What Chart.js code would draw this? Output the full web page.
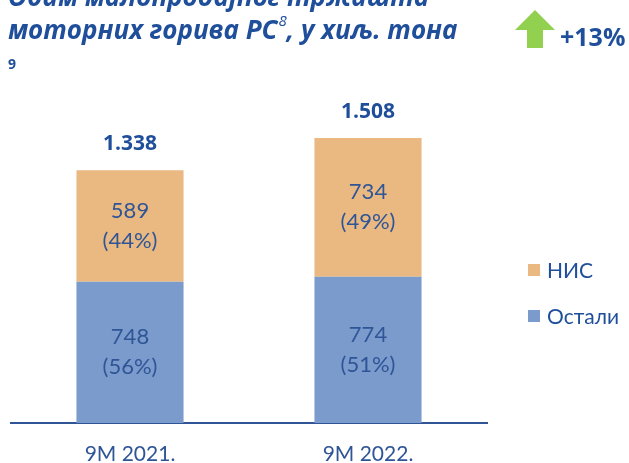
<!DOCTYPE html>
<html>
<head>
<meta charset="utf-8">
<script src="https://cdn.jsdelivr.net/npm/chart.js@4.4.1/dist/chart.umd.min.js"></script>
<style>
  html, body { margin: 0; padding: 0; background: #fff; }
  #wrap { width: 629px; height: 463px; }
</style>
</head>
<body>
<div id="wrap"><canvas id="chart" width="629" height="463"></canvas></div>
<script>
// data
const categories = ['9M 2021.', '9M 2022.'];
const ostali = [748, 774];
const nis = [589, 734];
const totalLabels = ['1.338', '1.508'];
const seriesNames = ['Остали', 'НИС'];
const growthLabel = '+13%';

const titleLine1 = 'Обим малопродајног тржишта';
const titleLine2a = 'моторних горива РС';
const titleSup = '8';
const titleLine2b = ', у хиљ. тона';
const footnote = '9';

const blue = '#7A9BCC';
const orange = '#EAB982';
const textBlue = '#1F4E9A';
const labelBlue = '#2F5597';
const FONT = 'Lato, "Open Sans", sans-serif';
const HEAD_FONT = '"Open Sans", Lato, sans-serif';

const decorPlugin = {
    id: 'decor',
    afterDatasetsDraw(chart) {
        const ctx = chart.ctx;
        ctx.save();

        // labels inside bars (value + share)
        chart.data.datasets.forEach((ds, di) => {
            const meta = chart.getDatasetMeta(di);
            meta.data.forEach((bar, i) => {
                const total = ostali[i] + nis[i];
                const pct = Math.round(ds.data[i] / total * 100);
                const cy = (bar.y + bar.base) / 2;
                ctx.fillStyle = labelBlue;
                ctx.font = '22px ' + FONT;
                ctx.textAlign = 'center';
                ctx.textBaseline = 'middle';
                ctx.fillText(String(ds.data[i]), bar.x, cy - 15);
                ctx.fillText('(' + pct + '%)', bar.x, cy + 15);
            });
        });

        // totals above stacks
        const topMeta = chart.getDatasetMeta(chart.data.datasets.length - 1);
        topMeta.data.forEach((bar, i) => {
            ctx.fillStyle = textBlue;
            ctx.font = 'bold 21px ' + HEAD_FONT;
            ctx.textAlign = 'center';
            ctx.textBaseline = 'middle';
            ctx.fillText(totalLabels[i], bar.x, bar.y - 26);
        });

        // legend (НИС on top, Остали below)
        const legendItems = [
            { text: seriesNames[1], color: orange, y: 270 },
            { text: seriesNames[0], color: blue, y: 316 }
        ];
        legendItems.forEach(it => {
            ctx.fillStyle = it.color;
            ctx.fillRect(528, it.y - 6, 12, 12);
            ctx.fillStyle = textBlue;
            ctx.font = '21px ' + FONT;
            ctx.textAlign = 'left';
            ctx.textBaseline = 'middle';
            ctx.fillText(it.text, 547, it.y + 1);
        });

        // title
        ctx.fillStyle = textBlue;
        ctx.textAlign = 'left';
        ctx.textBaseline = 'alphabetic';
        ctx.font = 'italic bold 26px ' + HEAD_FONT;
        ctx.fillText(titleLine1, 8, 6);
        ctx.fillText(titleLine2a, 8, 39);
        let x = 8 + ctx.measureText(titleLine2a).width;
        ctx.font = 'italic 15px ' + HEAD_FONT;
        ctx.fillText(titleSup, x + 1, 26);
        x += ctx.measureText(titleSup).width + 1;
        ctx.font = 'italic bold 26px ' + HEAD_FONT;
        ctx.fillText(titleLine2b, x, 39);

        ctx.font = 'bold 14px ' + HEAD_FONT;
        ctx.fillText(footnote, 8, 69);

        // green arrow
        ctx.fillStyle = '#92D050';
        ctx.beginPath();
        ctx.moveTo(535, 10);
        ctx.lineTo(555, 30);
        ctx.lineTo(543, 30);
        ctx.lineTo(543, 48);
        ctx.lineTo(527, 48);
        ctx.lineTo(527, 30);
        ctx.lineTo(515, 30);
        ctx.closePath();
        ctx.fill();

        ctx.fillStyle = textBlue;
        ctx.font = 'bold 25px ' + HEAD_FONT;
        ctx.fillText(growthLabel, 560, 46);

        ctx.restore();
    }
};

new Chart(document.getElementById('chart'), {
    type: 'bar',
    data: {
        labels: categories,
        datasets: [
            {
                label: seriesNames[0],
                data: ostali,
                backgroundColor: blue,
                barPercentage: 0.45,
                categoryPercentage: 1
            },
            {
                label: seriesNames[1],
                data: nis,
                backgroundColor: orange,
                barPercentage: 0.45,
                categoryPercentage: 1
            }
        ]
    },
    options: {
        responsive: false,
        animation: false,
        layout: {
            padding: { left: 11, right: 142, top: 45, bottom: 0 }
        },
        plugins: {
            legend: { display: false },
            tooltip: { enabled: false },
            title: { display: false }
        },
        scales: {
            x: {
                stacked: true,
                grid: { drawOnChartArea: false, drawTicks: false },
                border: { display: true, color: labelBlue, width: 2 },
                ticks: {
                    color: labelBlue,
                    padding: 19,
                    font: { family: FONT, size: 21 }
                },
                afterFit: function(scale) {
                    scale.height = 40;
                }
            },
            y: {
                stacked: true,
                display: false,
                min: 0,
                max: 2000
            }
        }
    },
    plugins: [decorPlugin]
});
</script>
</body>
</html>
